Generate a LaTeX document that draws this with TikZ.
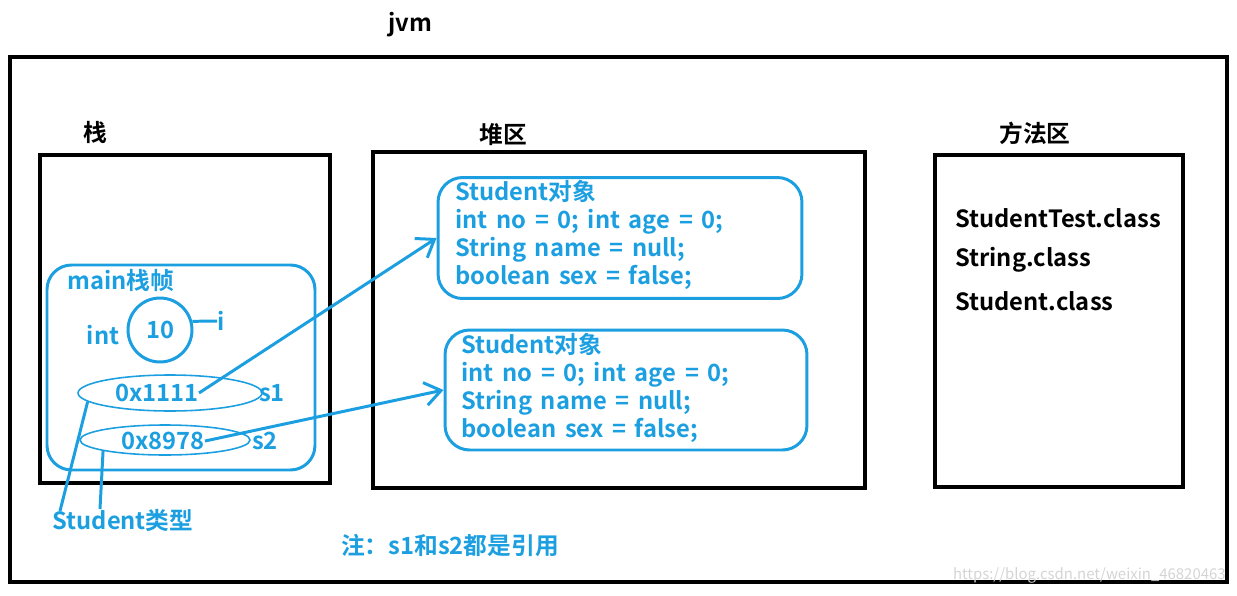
\documentclass[tikz,border=0pt]{standalone}
\usepackage{fontspec}
\setmainfont{Noto Sans CJK SC}[BoldFont={Noto Sans CJK SC Bold},WordSpace=1.6]
\usetikzlibrary{arrows.meta,shapes.geometric}
\definecolor{refblue}{HTML}{1C9FE0}
\definecolor{markgray}{HTML}{D4D4D4}
\tikzset{
  area/.style={draw=black,line width=2pt},
  title/.style={font=\bfseries\fontsize{13.5}{15}\selectfont,inner sep=0pt},
  klass/.style={title,anchor=west},
  frame/.style={draw=refblue,line width=1.7pt,rounded corners=14pt},
  btext/.style={text=refblue,font=\bfseries\fontsize{13.5}{15}\selectfont,inner sep=0pt},
  fields/.style={btext,align=left,anchor=north west,font=\bfseries\fontsize{13.5}{15.9}\selectfont},
  cell/.style={draw=refblue,line width=0.9pt,ellipse,inner sep=0pt},
  ref/.style={draw=refblue,line width=1.7pt,-{Straight Barb[length=3.2mm,width=4.6mm,line width=1.7pt]}},
  tie/.style={draw=refblue,line width=1.7pt},
}
\begin{document}
\begin{tikzpicture}[x=0.02cm,y=-0.02cm]
  \useasboundingbox (0,0) rectangle (1237,595);
  % jvm and its three areas
  \draw[area] (10,57) rectangle (1227,582);
  \node[title] (jvm) at (410,25) {jvm};
  \draw[area] (40,155) rectangle (330,483);
  \node[title] (stack) at (95,132) {栈};
  \draw[area] (373,152) rectangle (865,488);
  \node[title] (heap) at (503,135) {堆区};
  \draw[area] (935,155) rectangle (1183,487);
  \node[title] (method) at (1035,133) {方法区};
  \node[klass] (c1) at (955,218) {StudentTest.class};
  \node[klass] (c2) at (955,260) {String.class};
  \node[klass] (c3) at (955,301) {Student.class};
  % main frame
  \draw[frame] (47,265) rectangle (315,470);
  \node[btext,anchor=west] (mainlab) at (67,280) {main栈帧};
  \node[draw=refblue,line width=1.7pt,circle,minimum size=1.28cm] (ival) at (160,330) {};
  \node[btext] at (ival) {10};
  \node[btext] (itype) at (103,335) {int};
  \node[btext] (iname) at (221,321) {i};
  \draw[tie] (ival.15) -- (iname.west);
  \node[cell,minimum width=3.68cm,minimum height=0.72cm] (s1cell) at (170,393) {};
  \node[btext] (s1val) at (157,393) {0x1111};
  \node[btext] (s1name) at (272,393) {s1};
  \node[cell,minimum width=3.4cm,minimum height=0.6cm] (s2cell) at (165,440) {};
  \node[btext] (s2val) at (163,441) {0x8978};
  \node[btext] (s2name) at (265,441) {s2};
  \node[btext] (stype) at (123,520) {Student类型};
  \coordinate (t1) at (60,511);
  \coordinate (t2) at (100,509);
  \draw[tie] (s1cell.186) -- (t1);
  \draw[tie] (s2cell.190) -- (t2);
  % objects in the heap
  \node[frame,minimum width=7.28cm,minimum height=2.42cm] (obj1) at (620,238) {};
  \node[fields] (f1) at (455,180) {Student对象\\int no = 0; int age = 0;\\String name = null;\\boolean sex = false;};
  \node[frame,minimum width=7.24cm,minimum height=2.4cm] (obj2) at (626,390) {};
  \node[fields] (f2) at (461,333) {Student对象\\int no = 0; int age = 0;\\String name = null;\\boolean sex = false;};
  \draw[ref] (s1val.east) -- (obj1.west);
  \draw[ref] (s2val.east) -- (obj2.west);
  \node[btext] (note) at (450,545) {注：s1和s2都是引用};
  \node[text=markgray,font=\fontsize{8.5}{10}\selectfont,inner sep=0pt,anchor=east] (mark) at (1226,575) {https://blog.csdn.net/weixin\_46820463};
\end{tikzpicture}
\end{document}
